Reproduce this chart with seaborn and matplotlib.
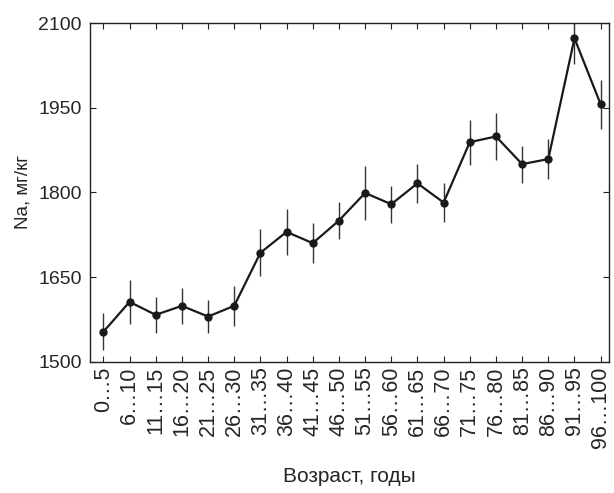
import matplotlib
matplotlib.use("Agg")
import matplotlib.pyplot as plt
import seaborn as sns
import pandas as pd
import numpy as np

age_groups = ["0…5", "6…10", "11…15", "16…20", "21…25", "26…30", "31…35", "36…40",
              "41…45", "46…50", "51…55", "56…60", "61…65", "66…70", "71…75", "76…80",
              "81…85", "86…90", "91…95", "96…100"]
na_mean = [1553, 1606, 1583, 1599, 1580, 1599, 1693, 1730, 1710, 1750,
           1799, 1779, 1816, 1782, 1889, 1899, 1850, 1859, 2073, 1956]
na_err = [33, 39, 32, 32, 30, 35, 42, 41, 36, 33,
          48, 33, 35, 35, 40, 41, 33, 35, 46, 43]

df = pd.DataFrame({"pos": np.arange(len(age_groups)), "na": na_mean, "err": na_err})

sns.set_style("ticks")
plt.rcParams["font.family"] = ["Liberation Sans", "DejaVu Sans"]

fig = plt.figure(figsize=(6.14, 4.93), dpi=100)
ax = fig.add_axes([0.1466, 0.2663, 0.8453, 0.687])

ax.errorbar(df["pos"], df["na"], yerr=df["err"], fmt="none",
            ecolor="#333333", elinewidth=1.0, capsize=0, zorder=2)
sns.lineplot(data=df, x="pos", y="na", ax=ax, color="#1a1a1a", linewidth=1.6,
             marker="o", markersize=6, markeredgewidth=0, zorder=3)

ax.set_xlim(-0.51, 19.32)
ax.set_ylim(1500, 2100)
ax.set_yticks([1500, 1650, 1800, 1950, 2100])
ax.set_xticks(df["pos"])
ax.set_xticklabels(age_groups, rotation=90, fontsize=15.5)
ax.tick_params(axis="y", labelsize=14, pad=6)
ax.tick_params(direction="in", top=True, right=True, length=4, width=0.8, color="#222222")
for s in ax.spines.values():
    s.set_linewidth(1.0)
    s.set_color("#222222")

ax.set_xlabel("Возраст, годы", fontsize=15, labelpad=14)
ax.set_ylabel("Na, мг/кг", fontsize=13.5, labelpad=5)

fig.savefig("out.png", dpi=100)
